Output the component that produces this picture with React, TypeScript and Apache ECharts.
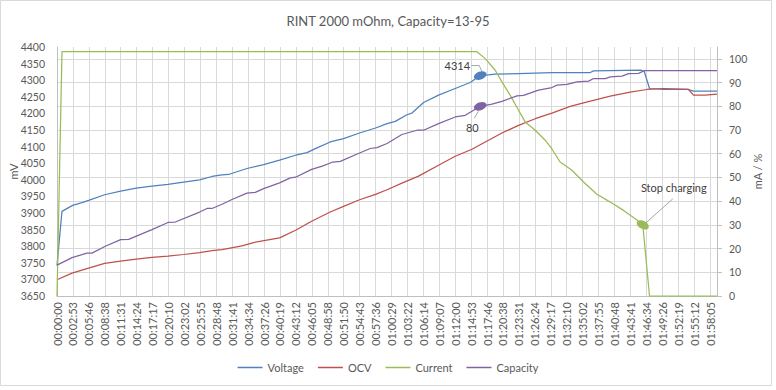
import React, { useEffect, useRef } from "react";
import * as echarts from "echarts";

const TITLE = "RINT 2000 mOhm, Capacity=13-95";
const SERIES_NAMES = ["Voltage", "OCV", "Current", "Capacity"];

// time axis: seconds from start, tick every 172.8 s
const TIME_STEP = 172.8;
const TIME_MAX = 7160;

// [seconds, mV]
const VOLTAGE: [number, number][] = [
  [0, 3742], [54, 3905], [169, 3923], [271, 3931], [343, 3938], [516, 3955], [690, 3966],
  [860, 3975], [1030, 3981], [1204, 3986], [1373, 3993], [1547, 4000], [1681, 4010],
  [1790, 4015], [1861, 4016], [2061, 4034], [2241, 4046], [2415, 4059], [2588, 4074],
  [2712, 4082], [2820, 4096], [2964, 4114], [3109, 4124], [3282, 4141], [3456, 4156],
  [3580, 4169], [3670, 4176], [3796, 4196], [3851, 4201], [3977, 4233], [4139, 4255],
  [4320, 4275], [4483, 4293], [4592, 4314], [4682, 4316], [4754, 4318], [5007, 4320],
  [5369, 4323], [5785, 4323], [5821, 4328], [6340, 4330], [6370, 4327], [6428, 4275],
  [6580, 4272], [6851, 4272], [6905, 4267], [7160, 4267],
];

// [seconds, mV]
const OCV: [number, number][] = [
  [0, 3699], [163, 3719], [343, 3734], [516, 3748], [690, 3755], [860, 3761], [1030, 3766],
  [1204, 3770], [1373, 3775], [1547, 3781], [1681, 3787], [1790, 3790], [2007, 3801],
  [2133, 3811], [2415, 3825], [2588, 3848], [2762, 3875], [2964, 3903], [3109, 3920],
  [3282, 3940], [3456, 3956], [3580, 3970], [3742, 3990], [3922, 4011], [4139, 4044],
  [4320, 4071], [4502, 4092], [4646, 4114], [4827, 4141], [5007, 4164], [5188, 4184],
  [5369, 4201], [5568, 4221], [5712, 4232], [6002, 4252], [6219, 4264], [6400, 4272],
  [6580, 4275], [6851, 4272], [6905, 4255], [7032, 4255], [7160, 4258],
];

// [seconds, mA/10]
const CURRENT: [number, number][] = [
  [0, 0], [54, 103], [4556, 103], [4646, 100.1], [4754, 95.2], [4827, 90.3], [4917, 84.6],
  [5007, 78.3], [5080, 73.4], [5188, 69.9], [5296, 65.7], [5369, 62], [5458, 56.5],
  [5586, 53], [5712, 48.1], [5857, 42.9], [6002, 39.6], [6146, 36.1], [6273, 32.6],
  [6355, 30], [6428, 0], [7160, 0],
];

// [seconds, %]
const CAPACITY: [number, number][] = [
  [0, 13], [163, 16.2], [253, 17.2], [325, 18.1], [380, 18.1], [524, 21], [690, 23.8],
  [777, 23.9], [1030, 28], [1204, 31], [1283, 31.2], [1547, 35.4], [1627, 36.9],
  [1681, 36.9], [1790, 38.7], [1898, 40.7], [2061, 43.4], [2151, 43.7], [2241, 45.3],
  [2415, 47.7], [2531, 49.8], [2588, 50.1], [2762, 53.4], [2878, 54.8], [2994, 56.5],
  [3073, 56.8], [3282, 60.3], [3398, 62.2], [3471, 62.6], [3580, 64.3], [3742, 68.1],
  [3905, 69.9], [3977, 69.9], [4139, 72.7], [4320, 75.5], [4429, 76.2], [4592, 80],
  [4718, 80.9], [4827, 82.1], [4990, 84.4], [5061, 84.6], [5224, 86.8], [5369, 87.9],
  [5424, 88.9], [5532, 89.2], [5641, 90.3], [5767, 90.6], [5821, 91.7], [5948, 91.7],
  [6002, 92.4], [6129, 92.7], [6200, 93.8], [6309, 93.9], [6370, 95], [7160, 95],
];

const C_VOLT = "#4f81bd";
const C_OCV = "#c0504d";
const C_CUR = "#9bbb59";
const C_CAP = "#8064a2";
const TEXT = "#595959";
const GRID = "#d9d9d9";
const AXIS = "#bfbfbf";
const FONT = "Lato";

const valueAt = (arr: [number, number][], t: number) => {
  const p = arr.find((d) => d[0] === t);
  return p ? p[1] : 0;
};

const fmtTime = (v: number) => {
  const s = Math.round(v);
  const h = Math.floor(s / 3600);
  const m = Math.floor((s % 3600) / 60);
  const sec = s % 60;
  return [h, m, sec].map((n) => String(n).padStart(2, "0")).join(":");
};

type Ann = {
  data: [number, number][];
  t: number;
  axis: number;
  color: string;
  text?: string;
  dx: number;
  dy: number;
  rot: number;
  leader: number[][];
};

const ANNOTATIONS: Ann[] = [
  { data: VOLTAGE, t: 4592, axis: 0, color: C_VOLT, dx: -23, dy: -10, rot: 0.35, leader: [[-9, -10], [-1, -10], [2, -3]] },
  { data: CAPACITY, t: 4592, axis: 1, color: C_CAP, dx: -8, dy: 21, rot: 0.35, leader: [[-2, 5], [-6, 12]] },
  { data: CURRENT, t: 6355, axis: 1, color: C_CUR, text: "Stop charging", dx: 31, dy: -37, rot: -0.5, leader: [[2, -1], [30, -26]] },
];

const lineSeries = (name: string, data: [number, number][], color: string, axis: number) => ({
  type: "line",
  name,
  data,
  yAxisIndex: axis,
  showSymbol: false,
  symbol: "none",
  color,
  lineStyle: { color, width: 1.25 },
  z: 3,
});

const annSeries = (a: Ann, i: number) => ({
  type: "custom",
  name: "ann" + i,
  yAxisIndex: a.axis,
  silent: true,
  z: 10,
  data: [[a.t, valueAt(a.data, a.t)]],
  encode: { x: 0, y: 1 },
  renderItem: (_params: any, api: any) => {
    const p = api.coord([api.value(0), api.value(1)]);
    const px = p[0];
    const py = p[1];
    return {
      type: "group",
      children: [
        {
          type: "polyline",
          shape: { points: a.leader.map((d) => [px + d[0], py + d[1]]) },
          style: { stroke: "#a6a6a6", lineWidth: 1, fill: "none" },
        },
        {
          type: "ellipse",
          x: px,
          y: py,
          rotation: a.rot,
          shape: { cx: 0, cy: 0, rx: 6.5, ry: 4 },
          style: { fill: a.color },
        },
        {
          type: "text",
          x: px + a.dx,
          y: py + a.dy,
          style: {
            text: a.text ?? String(Math.round(api.value(1))),
            fill: "#404040",
            fontSize: 11,
            fontFamily: FONT,
            align: "center",
            verticalAlign: "middle",
          },
        },
      ],
    };
  },
});

export default function App() {
  const ref = useRef<HTMLDivElement>(null);
  useEffect(() => {
    const chart = echarts.init(ref.current!, null, { renderer: "svg" });
    chart.setOption({
      animation: false,
      backgroundColor: "#ffffff",
      textStyle: { fontFamily: FONT },
      title: {
        text: TITLE,
        left: "center",
        top: 9,
        textStyle: { fontSize: 13, fontWeight: "normal", color: TEXT, fontFamily: FONT },
      },
      graphic: [
        {
          type: "rect",
          shape: { x: 0.5, y: 0.5, width: 771, height: 385 },
          style: { fill: "none", stroke: GRID, lineWidth: 1 },
          silent: true,
        },
      ],
      grid: { left: 57, right: 59, top: 47, bottom: 94, containLabel: false, outerBoundsMode: "none" },
      legend: {
        data: SERIES_NAMES,
        left: "center",
        top: 357,
        icon: "rect",
        itemWidth: 25,
        itemHeight: 1.5,
        itemGap: 14,
        textStyle: { color: TEXT, fontSize: 11, fontFamily: FONT },
      },
      xAxis: {
        type: "value",
        min: 0,
        max: TIME_MAX,
        interval: TIME_STEP,
        axisLine: { show: true, lineStyle: { color: AXIS } },
        axisTick: { show: false },
        splitLine: { show: true, lineStyle: { color: GRID } },
        axisLabel: {
          rotate: 90,
          color: TEXT,
          fontSize: 11,
          margin: 6,
          formatter: fmtTime,
          showMinLabel: true,
          showMaxLabel: false,
        },
      },
      yAxis: [
        {
          type: "value",
          min: 3650,
          max: 4400,
          interval: 50,
          name: "mV",
          nameLocation: "middle",
          nameRotate: 90,
          nameGap: 38,
          nameMoveOverlap: false,
          nameTextStyle: { color: TEXT, fontSize: 11, fontFamily: FONT },
          axisLine: { show: true, lineStyle: { color: AXIS } },
          axisTick: { show: false },
          splitLine: { show: false },
          axisLabel: { color: TEXT, fontSize: 10.5, margin: 12, formatter: (v: number) => String(v) },
        },
        {
          type: "value",
          position: "right",
          min: 0,
          max: 105,
          interval: 10,
          name: "mA / %",
          nameLocation: "middle",
          nameRotate: 90,
          nameGap: 35,
          nameMoveOverlap: false,
          nameTextStyle: { color: TEXT, fontSize: 11, fontFamily: FONT },
          axisLine: { show: true, lineStyle: { color: AXIS } },
          axisTick: { show: true, length: 5, lineStyle: { color: AXIS } },
          splitLine: { show: true, showMaxLine: false, lineStyle: { color: GRID } },
          axisLabel: { color: TEXT, fontSize: 10.5, margin: 12, showMaxLabel: false, formatter: (v: number) => String(v) },
        },
      ],
      series: [
        lineSeries("Voltage", VOLTAGE, C_VOLT, 0),
        lineSeries("OCV", OCV, C_OCV, 0),
        lineSeries("Current", CURRENT, C_CUR, 1),
        lineSeries("Capacity", CAPACITY, C_CAP, 1),
        ...ANNOTATIONS.map(annSeries),
      ],
    });
    return () => chart.dispose();
  }, []);
  return (
    <div
      ref={ref}
      style={{ position: "absolute", left: 0, top: 0, width: 776, height: 390 }}
    />
  );
}
